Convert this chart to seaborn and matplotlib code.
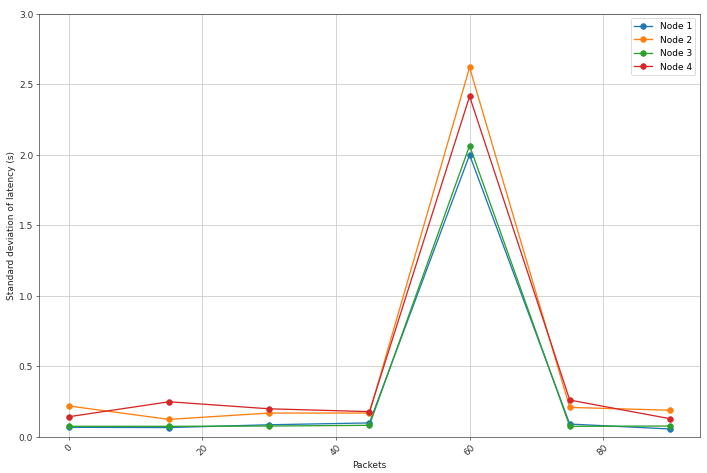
import pandas as pd
import matplotlib
matplotlib.use("Agg")
import matplotlib.pyplot as plt
import seaborn as sns

# Packet counts on the x axis
packets = [0, 15, 30, 45, 60, 75, 90]

# Standard deviation of latency per node (s)
node1 = [0.069, 0.067, 0.087, 0.100, 2.00, 0.092, 0.057]
node2 = [0.220, 0.125, 0.170, 0.170, 2.62, 0.210, 0.190]
node3 = [0.076, 0.076, 0.078, 0.083, 2.066, 0.076, 0.078]
node4 = [0.144, 0.250, 0.200, 0.180, 2.415, 0.262, 0.130]

nodes = ["Node 1", "Node 2", "Node 3", "Node 4"]
colors = ["#1f77b4", "#ff7f0e", "#2ca02c", "#d62728"]

df = pd.DataFrame({"Packets": packets, "Node 1": node1, "Node 2": node2,
                   "Node 3": node3, "Node 4": node4})
melted_df = df.melt(id_vars="Packets", value_vars=nodes, var_name="Node", value_name="std")

fig, ax = plt.subplots(figsize=(12, 8.034), dpi=58.92)
for name, col in zip(nodes, colors):
    sub = melted_df[melted_df["Node"] == name]
    sns.lineplot(x="Packets", y="std", data=sub, ax=ax, color=col, marker="o",
                 markeredgecolor=col, markersize=7, linewidth=1.6, label=name)

ax.set_ylim(0, 3.0)
ax.grid(True, color="#cccccc", linewidth=1)
ax.set_axisbelow(True)
for sp in ax.spines.values():
    sp.set_color("#333333")
plt.xticks(rotation=45)
ax.tick_params(labelsize=11, colors="#333333")
ax.set_xlabel("Packets", fontsize=11, color="#222222")
ax.set_ylabel("Standard deviation of latency (s)", fontsize=11, color="#222222")
ax.legend(loc="upper right", fontsize=11)
plt.tight_layout()
plt.subplots_adjust(left=0.055, right=0.99, top=0.97, bottom=0.076)
plt.savefig("out.png")
